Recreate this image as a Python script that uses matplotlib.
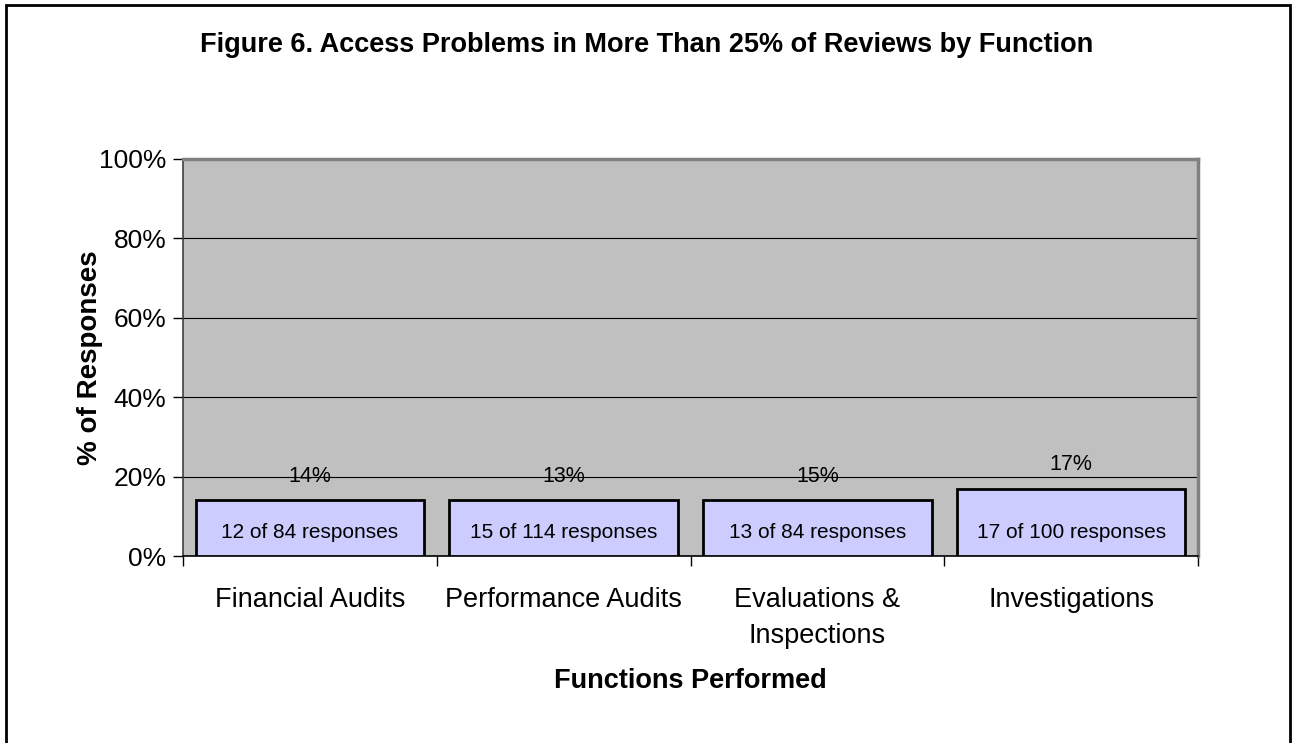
import matplotlib
matplotlib.use("Agg")
import matplotlib.pyplot as plt
from matplotlib.patches import Rectangle

plt.rcParams['font.family'] = ['Liberation Sans', 'DejaVu Sans']

# data
functions = ["Financial Audits", "Performance Audits", "Evaluations &\nInspections", "Investigations"]
bar_heights = [14, 14, 14, 17]          # drawn bar heights (% of responses)
pct_labels = ["14%", "13%", "15%", "17%"]
count_labels = ["12 of 84 responses", "15 of 114 responses", "13 of 84 responses", "17 of 100 responses"]
yticks = [0, 20, 40, 60, 80, 100]

fig = plt.figure(figsize=(12.93, 7.43), dpi=100)
ax = fig.add_axes([183/1293, 1 - 556/743, (1198 - 183)/1293, (556 - 159)/743])

# outer frame of the chart object
fig.patches.append(Rectangle((6/1293, -0.02), 1284/1293, 1.02 - 5/743, transform=fig.transFigure,
                             fill=False, edgecolor='black', linewidth=2))

ax.set_facecolor('#C0C0C0')
x = range(len(functions))
ax.bar(x, bar_heights, width=0.9, color='#CCCCFF', edgecolor='black', linewidth=2, zorder=3)

for i, h in enumerate(bar_heights):
    ax.text(i, h + 6, pct_labels[i], ha='center', va='center', fontsize=15.5, zorder=4)
    ax.text(i, 5.9, count_labels[i], ha='center', va='center', fontsize=15, zorder=4)

ax.set_xlim(-0.5, len(functions) - 0.5)
ax.set_ylim(0, 100)
ax.set_yticks(yticks)
ax.set_yticklabels([f"{t}%" for t in yticks], fontsize=19)
ax.yaxis.grid(True, color='black', linewidth=0.8, zorder=1)
ax.set_axisbelow(True)

# category ticks at boundaries, labels at centres
ax.set_xticks([i - 0.5 for i in range(len(functions) + 1)])
ax.set_xticklabels([])
ax.set_xticks(list(x), minor=True)
ax.set_xticklabels(functions, minor=True, fontsize=19.5, linespacing=1.5)
ax.tick_params(axis='x', which='minor', length=0, pad=22)
ax.tick_params(axis='both', which='major', length=7, width=1, direction='out')
ax.tick_params(axis='y', pad=5)

for side in ['top', 'right']:
    ax.spines[side].set_color('#808080')
    ax.spines[side].set_linewidth(2.5)
ax.spines['left'].set_color('#404040')
ax.spines['bottom'].set_color('black')
ax.spines['left'].set_linewidth(1.2)
ax.spines['bottom'].set_linewidth(1.2)

ax.set_ylabel("% of Responses", fontsize=20, fontweight='bold')
ax.yaxis.set_label_coords(-0.079, 0.5)
ax.set_xlabel("Functions Performed", fontsize=19.5, fontweight='bold')
ax.xaxis.set_label_coords(0.5, -0.283)

fig.text(0.5, 1 - 45/743, "Figure 6. Access Problems in More Than 25% of Reviews by Function",
         ha='center', va='center', fontsize=19.5, fontweight='bold')

fig.savefig("out.png", dpi=100)
